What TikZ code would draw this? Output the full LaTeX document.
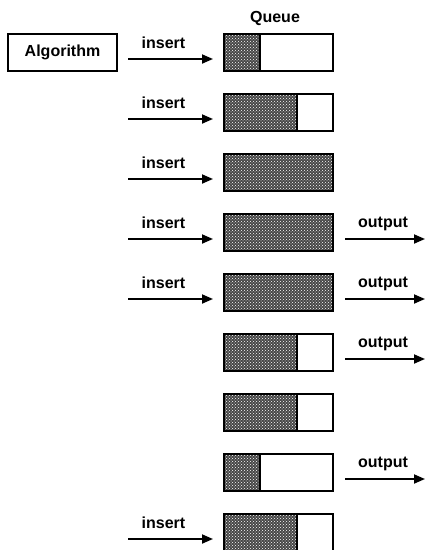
\documentclass[tikz,border=0pt]{standalone}
\usepackage{fontspec}
\setmainfont{Liberation Sans}
\usetikzlibrary{patterns,arrows.meta}
\begin{document}
\begin{tikzpicture}[x=1pt,y=-1pt,
  box/.style={draw,line width=2.2pt,minimum width=109pt,minimum height=37pt,inner sep=0pt,outer sep=0pt},
  lbl/.style={font=\fontsize{16}{18}\selectfont\bfseries},
  arr/.style={line width=1.8pt,-{Triangle[length=11pt,width=9pt]}},
  used/.style={fill=black!72},
  grain/.style={pattern=crosshatch dots,pattern color=white}]
\useasboundingbox (0,0) rectangle (425,550);
% heading and the producer box
\node[lbl,anchor=base] (queue) at (275,22) {Queue};
\node[box,lbl] (alg) at (62.5,52.5) {Algorithm};
% queue states, one per row; \f = filled thirds
\foreach \k/\f in {0/1,1/2,2/3,3/3,4/3,5/2,6/2,7/1,8/2} {
  \pgfmathsetmacro\yy{34+60*\k}
  \pgfmathsetmacro\xx{224+\f*109/3}
  \fill[used] (224,\yy) rectangle (\xx,\yy+37);
  \fill[grain] (224,\yy) rectangle (\xx,\yy+37);
  \node[box] (q\k) at (278.5,\yy+18.5) {};
  \ifnum\f<3
    \draw[line width=2.2pt] (\xx,\yy) -- (\xx,\yy+37);
  \fi
}
% insert arrows
\foreach \k in {0,1,2,3,4,8} {
  \pgfmathsetmacro\yy{34+60*\k}
  \coordinate (is\k) at (128,\yy+25);
  \coordinate (ie\k) at (213,\yy+25);
  \draw[arr] (is\k) -- (ie\k);
  \node[lbl,anchor=base] (il\k) at (163.5,\yy+14) {insert};
}
% output arrows
\foreach \k in {3,4,5,7} {
  \pgfmathsetmacro\yy{34+60*\k}
  \coordinate (os\k) at (345,\yy+25);
  \coordinate (oe\k) at (425,\yy+25);
  \draw[arr] (os\k) -- (oe\k);
  \node[lbl,anchor=base] (ol\k) at (383,\yy+13.5) {output};
}
\end{tikzpicture}
\end{document}
